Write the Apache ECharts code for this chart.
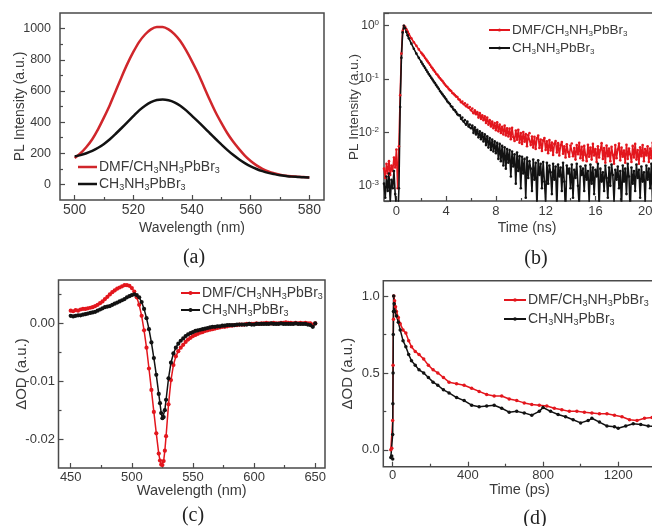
<!DOCTYPE html>
<html><head><meta charset="utf-8">
<script src="https://cdn.jsdelivr.net/npm/echarts@6/dist/echarts.min.js"></script>
<style>html,body{margin:0;padding:0;background:#fff}#c{width:652px;height:526px}</style>
</head><body><div id="c"></div>
<script>
// ---------- Panel (a): steady-state PL ----------
const wlA = [500,502,504,506,508,510,512,514,516,518,520,522,524,526,528,530,532,534,536,538,540,542,544,546,548,550,552,554,556,558,560,562,564,566,568,570,572,574,576,578,580];
const plDMF = [170,200,240,290,355,430,510,600,690,775,850,915,962,995,1010,1010,995,965,920,860,790,715,630,545,465,395,330,275,228,185,150,122,100,84,72,63,56,52,49,47,45];
const plMA  = [180,188,200,215,235,260,290,325,362,400,438,475,505,528,542,545,540,527,505,475,440,405,368,330,293,257,222,190,162,137,116,99,85,74,66,59,54,50,48,46,45];
const ticksAx = [500,520,540,560,580], minorAx = [510,530,550,570];
const ticksAy = [0,200,400,600,800,1000], minorAy = [100,300,500,700,900];

// ---------- Panel (b): TRPL decay (log) ----------
const tB = [-1.0,-0.9,-0.8,-0.7,-0.6,-0.5,-0.4,-0.3,-0.2,-0.1,0.0,0.1,0.2,
 0.3,0.4,0.5,0.6,0.7,0.8,0.9,1.0,1.2,1.4,1.6,1.8,2.0,
 2.1,2.2,2.3,2.4,2.5,2.6,2.7,2.8,2.9,3.0, 3.1,3.2,3.3,3.4,3.5,3.6,3.7,3.8,3.9,4.0,
 4.1,4.2,4.3,4.4,4.5,4.6,4.7,4.8,4.9,5.0, 5.1,5.2,5.3,5.4,5.5,5.6,5.7,5.8,5.9,6.0,
 6.1,6.2,6.3,6.4,6.5,6.6,6.7,6.8,6.9,7.0, 7.1,7.2,7.3,7.4,7.5,7.6,7.7,7.8,7.9,8.0,
 8.1,8.2,8.3,8.4,8.5,8.6,8.7,8.8,8.9,9.0, 9.1,9.2,9.3,9.4,9.5,9.6,9.7,9.8,9.9,10.0,
 10.1,10.2,10.3,10.4,10.5,10.6,10.7,10.8,10.9,11.0, 11.1,11.2,11.3,11.4,11.5,11.6,11.7,11.8,11.9,12.0,
 12.1,12.2,12.3,12.4,12.5,12.6,12.7,12.8,12.9,13.0, 13.1,13.2,13.3,13.4,13.5,13.6,13.7,13.8,13.9,14.0,
 14.1,14.2,14.3,14.4,14.5,14.6,14.7,14.8,14.9,15.0, 15.1,15.2,15.3,15.4,15.5,15.6,15.7,15.8,15.9,16.0,
 16.1,16.2,16.3,16.4,16.5,16.6,16.7,16.8,16.9,17.0, 17.1,17.2,17.3,17.4,17.5,17.6,17.7,17.8,17.9,18.0,
 18.1,18.2,18.3,18.4,18.5,18.6,18.7,18.8,18.9,19.0, 19.1,19.2,19.3,19.4,19.5,19.6,19.7,19.8,19.9,20.0,
 20.1,20.2,20.3,20.4,20.5,20.6,20.7,20.8,20.9,21.0, 21.1,21.2,21.3,21.4,21.5,21.6,21.7,21.8,21.9,22.0];
const trDMF = [0.0021,0.0014,0.0026,0.0017,0.0029,0.0016,0.0024,0.0019,0.0034,0.0022,0.0048,0.0009,0.0055,
 0.05,0.3,0.8,1.0,0.95,0.86,0.78,0.7,0.58,0.49,0.42,0.36,0.31,
 0.29,0.272,0.25,0.232,0.215,0.2,0.185,0.17,0.16,0.147, 0.137,0.126,0.12,0.111,0.104,0.097,0.092,0.085,0.079,0.074,
 0.071,0.066,0.062,0.06,0.055,0.053,0.05,0.047,0.046,0.042, 0.041,0.037,0.038,0.034,0.035,0.031,0.033,0.029,0.030,0.026,
 0.028,0.023,0.026,0.022,0.024,0.019,0.023,0.018,0.021,0.017, 0.020,0.015,0.019,0.014,0.017,0.013,0.016,0.012,0.015,0.011,
 0.0155,0.0105,0.014,0.0098,0.0128,0.0092,0.0135,0.0088,0.012,0.0084, 0.0118,0.0075,0.0122,0.0082,0.0069,0.0109,0.0073,0.0112,0.0064,0.0098,
 0.0061,0.0102,0.0067,0.0093,0.0055,0.0089,0.0097,0.0058,0.0084,0.0052, 0.0083,0.0049,0.0078,0.0088,0.0051,0.0074,0.0045,0.0071,0.0079,0.0047,
 0.0068,0.0041,0.0072,0.0046,0.0065,0.0038,0.0061,0.0069,0.0042,0.0063, 0.0037,0.0058,0.0066,0.004,0.0055,0.0034,0.006,0.0043,0.0035,0.0057,
 0.0062,0.0036,0.0051,0.0031,0.0058,0.0039,0.0064,0.0033,0.0054,0.003, 0.0056,0.0038,0.0029,0.0059,0.0035,0.0052,0.0031,0.0061,0.0037,0.0049,
 0.0028,0.0055,0.0034,0.0047,0.0063,0.0032,0.0051,0.0027,0.0057,0.0036, 0.005,0.0029,0.0054,0.0038,0.0026,0.0058,0.0033,0.0048,0.0062,0.003,
 0.0052,0.0035,0.0046,0.0027,0.0059,0.0032,0.005,0.0039,0.0028,0.0056, 0.0034,0.0061,0.0031,0.0047,0.0026,0.0053,0.0036,0.0058,0.0029,0.0049,
 0.0037,0.0055,0.0028,0.005,0.0033,0.0064,0.003,0.0046,0.0027,0.0057, 0.0035,0.0049,0.0029,0.0061,0.0032,0.0052,0.0038,0.0026,0.0054,0.0034];
const trMA = [0.0011,0.0006,0.0015,0.0008,0.0017,0.0005,0.0013,0.0009,0.0019,0.0007,0.0004,0.0002,0.0009,
 0.03,0.25,0.75,1.0,0.9,0.76,0.66,0.58,0.46,0.37,0.3,0.25,0.21,
 0.192,0.176,0.162,0.148,0.136,0.124,0.115,0.106,0.098,0.09, 0.084,0.077,0.071,0.066,0.06,0.056,0.052,0.048,0.045,0.042,
 0.038,0.036,0.034,0.031,0.03,0.027,0.026,0.024,0.022,0.021, 0.021,0.018,0.019,0.016,0.017,0.014,0.016,0.013,0.014,0.012,
 0.0135,0.0098,0.0125,0.0092,0.0112,0.0081,0.0105,0.0075,0.0098,0.0068, 0.0092,0.0058,0.0085,0.0052,0.0079,0.0047,0.0074,0.0044,0.0068,0.0041,
 0.0064,0.0032,0.0061,0.0029,0.0056,0.0024,0.0053,0.0021,0.0049,0.0027, 0.0047,0.0015,0.0044,0.0023,0.0039,0.0011,0.0042,0.0019,0.0036,0.0009,
 0.0035,0.0017,0.0032,0.0006,0.0034,0.0014,0.0029,0.0021,0.0008,0.0031, 0.0013,0.0027,0.0004,0.003,0.0016,0.0026,0.0009,0.0028,0.0012,0.0005,
 0.0027,0.0011,0.0024,0.0018,0.0007,0.0026,0.0013,0.0023,0.0004,0.0025, 0.0015,0.0022,0.0008,0.0027,0.0012,0.0003,0.0024,0.0017,0.0021,0.0009,
 0.0025,0.0006,0.002,0.0014,0.0026,0.001,0.0004,0.0023,0.0016,0.0021, 0.0008,0.0024,0.0013,0.0019,0.0005,0.0025,0.0011,0.0022,0.0007,0.002,
 0.0015,0.0026,0.0004,0.0021,0.0012,0.0018,0.0008,0.0024,0.0014,0.0006, 0.0022,0.001,0.0025,0.0016,0.0005,0.002,0.0013,0.0023,0.0009,0.0019,
 0.0004,0.0024,0.0012,0.0021,0.0007,0.0026,0.0015,0.0003,0.0022,0.0011, 0.0019,0.0008,0.0025,0.0014,0.002,0.0006,0.0023,0.0012,0.0018,0.0005,
 0.0024,0.0013,0.0021,0.0009,0.0026,0.0004,0.0019,0.0015,0.0022,0.0007, 0.002,0.0011,0.0025,0.0006,0.0018,0.0014,0.0023,0.0005,0.0021,0.0012];
const ticksBx = [0,4,8,12,16,20], minorBx = [2,6,10,14,18];

// ---------- Panel (c): TA spectra ----------
const wlC = [450,452,454,456,458,460,462,464,466,468,470,472,474,476,478,480,482,484,486,488,
 490,492,494,496,498,500,502,504,506,508,510,512,514,516,518,520,522,523,524,525,526,527,528,
 530,532,534,536,538,540,542,544,546,548,550,552,554,556,558,560,562,564,566,568,
 570,572,574,576,578,580,582,584,586,588,590,592,594,596,598,600,602,604,606,608,
 610,612,614,616,618,620,622,624,626,628,630,632,634,636,638,640,642,644,646,648,650];
const taDMF = [0.0022,0.0021,0.0023,0.0022,0.0024,0.0025,0.0025,0.0026,0.0027,0.0028,
 0.003,0.0032,0.0035,0.0038,0.0042,0.0046,0.005,0.0054,0.0057,0.006,
 0.0062,0.0064,0.0066,0.0066,0.0065,0.0061,0.0055,0.0045,0.0032,0.0013,
 -0.0012,-0.0042,-0.0078,-0.0115,-0.0153,-0.019,-0.0225,
 -0.0237,-0.0244,-0.0245,-0.0238,-0.022,-0.0195,
 -0.014,-0.0098,-0.0072,-0.0057,-0.0048,-0.0042,-0.0037,-0.0032,-0.0028,-0.0025,
 -0.0022,-0.002,-0.0018,-0.0016,-0.0015,-0.0013,-0.0012,-0.0011,-0.001,-0.0009,
 -0.0008,-0.0007,-0.0006,-0.0006,-0.0005,-0.0004,-0.0004,-0.0003,-0.0003,-0.0002,
 -0.0002,-0.0002,-0.0001,-0.0001,-0.0001,-0.0001,0,-0.0001,0,0,
 0.0001,0,0,0.0001,0,0,0.0001,0.0001,0.0002,0.0001,
 0.0001,0,0.0001,0,0.0001,0,0.0001,0,0,-0.0002,0];
const taMA = [0.0013,0.0012,0.0013,0.0014,0.0014,0.0015,0.0016,0.0017,0.0018,0.0019,
 0.002,0.0022,0.0024,0.0026,0.0028,0.0029,0.003,0.0032,0.0034,0.0036,
 0.0038,0.004,0.0042,0.0045,0.0047,0.0049,0.005,0.0049,0.0045,0.0037,
 0.0025,0.0009,-0.001,-0.0033,-0.006,-0.0089,-0.0122,
 -0.0138,-0.0155,-0.0164,-0.0162,-0.015,-0.0132,
 -0.0095,-0.0068,-0.0052,-0.0042,-0.0035,-0.003,-0.0026,-0.0022,-0.0019,-0.0017,
 -0.0015,-0.0013,-0.0012,-0.0011,-0.001,-0.0009,-0.0008,-0.0007,-0.0006,-0.0006,
 -0.0005,-0.0005,-0.0004,-0.0004,-0.0003,-0.0003,-0.0003,-0.0003,-0.0002,-0.0002,
 -0.0002,-0.0002,-0.0002,-0.0001,-0.0002,-0.0002,-0.0001,-0.0001,-0.0001,-0.0001,
 -0.0001,-0.0001,0,-0.0001,-0.0001,-0.0001,0,-0.0001,-0.0001,-0.0001,
 -0.0001,-0.0001,0,-0.0001,-0.0001,-0.0001,-0.0001,-0.0002,-0.0003,-0.0006,0];
const ticksCx = [450,500,550,600,650], minorCx = [475,525,575,625];
const ticksCy = [-0.02,-0.01,0], minorCy = [-0.015,-0.005,0.005];

// ---------- Panel (d): TA kinetics ----------
const tDMF = [-10,-5,0,2,4,6,10,15,20,30,40,55,70,85,100,120,140,165,190,215,240,270,300,340,380,420,460,500,540,580,620,660,700,740,780,820,860,900,940,980,1020,1060,1100,1140,1180,1220,1260,1300,1340,1380,1400];
const kDMF = [0.0,0.01,0.19,0.55,0.85,1.0,0.97,0.93,0.9,0.86,0.82,0.78,0.76,0.71,0.67,0.64,0.62,0.59,0.55,0.52,0.5,0.47,0.44,0.43,0.42,0.4,0.38,0.36,0.35,0.35,0.33,0.32,0.305,0.295,0.29,0.285,0.27,0.26,0.25,0.25,0.245,0.24,0.235,0.235,0.225,0.215,0.195,0.19,0.205,0.21,0.215];
const tMA = [-10,-5,0,0,1,2,3,4,5,8,12,20,30,40,55,70,85,100,120,140,165,190,215,240,270,300,340,380,420,460,500,540,580,620,660,700,740,780,800,840,880,920,960,1000,1040,1060,1100,1140,1180,1200,1240,1280,1320,1360,1400];
const kMA = [-0.05,-0.04,-0.06,0.1,0.3,0.5,0.75,0.9,1.0,0.95,0.9,0.87,0.83,0.78,0.71,0.67,0.62,0.58,0.55,0.52,0.5,0.47,0.44,0.42,0.39,0.37,0.34,0.32,0.29,0.28,0.285,0.29,0.27,0.245,0.25,0.24,0.225,0.25,0.275,0.25,0.23,0.215,0.195,0.175,0.19,0.205,0.18,0.155,0.15,0.14,0.155,0.17,0.165,0.155,0.15];
const ticksDx = [0,400,800,1200], minorDx = [200,600,1000];
const ticksDy = [0,0.5,1.0], minorDy = [0.25,0.75];

const legendNames = {
  a1:'DMF/CH{s|3}NH{s|3}PbBr{s|3}', a2:'CH{s|3}NH{s|3}PbBr{s|3}',
  b1:'DMF/CH{s|3}NH{s|3}PbBr{s|3}', b2:'CH{s|3}NH{s|3}PbBr{s|3}',
  c1:'DMF/CH{s|3}NH{s|3}PbBr{s|3}', c2:'CH{s|3}NH{s|3}PbBr{s|3}',
  d1:'DMF/CH{s|3}NH{s|3}PbBr{s|3}', d2:'CH{s|3}NH{s|3}PbBr{s|3}'
};

// ---------- build ----------
const FONT = '"Liberation Sans", Arial, sans-serif';
const TXT = '#3a3a3a', FRAME = '#4a4a4a';
const RED = '#e3161d', REDA = '#d0262b', BLK = '#121212';
const zip = (xs, ys) => xs.map((x, i) => [x, ys[i]]);

const grids = [
  {left:60, top:13, width:264, height:187},
  {left:384, top:13, width:286, height:188},
  {left:58.5, top:280, width:266.5, height:188},
  {left:383.3, top:280.7, width:272.5, height:186}
].map(g => Object.assign({show:true, borderColor:FRAME, borderWidth:1.5, backgroundColor:'transparent', containLabel:false, outerBoundsMode:'none'}, g));

const xAxes = [], yAxes = [];
function mk(gridIndex, pos, c) {
  const ax = {
    type: c.type || 'value', gridIndex, position: pos, min: c.min, max: c.max,
    axisLine: {show:false, onZero:false},
    axisTick: {show:true, inside:true, length:5, lineStyle:{color:FRAME, width:1.2}},
    axisLabel: {margin:c.margin, fontSize:c.fs, color:TXT, fontFamily:FONT, formatter: c.fmt || (v => String(v))},
    splitLine: {show:false},
    name: c.name, nameLocation:'middle', nameGap:c.gap, nameMoveOverlap:false,
    nameTextStyle: {fontSize:c.nfs, color:TXT, fontFamily:FONT}
  };
  if (c.ticks) { ax.axisTick.customValues = c.ticks; ax.axisLabel.customValues = c.ticks; }
  if (c.rich) ax.axisLabel.rich = c.rich;
  return ax;
}
function mkMinor(gridIndex, pos, c) {
  return {type:'value', gridIndex, position:pos, min:c.min, max:c.max,
    axisLine:{show:false, onZero:false}, axisLabel:{show:false}, splitLine:{show:false},
    axisTick:{show:true, inside:true, length:3, customValues:c.minor, lineStyle:{color:FRAME, width:1.2}}};
}
function panel(gi, xc, yc) {
  const xi = xAxes.length, yi = yAxes.length;
  xAxes.push(mk(gi, 'bottom', xc));
  if (xc.minor) xAxes.push(mkMinor(gi, 'bottom', xc));
  yAxes.push(mk(gi, 'left', yc));
  if (yc.minor) yAxes.push(mkMinor(gi, 'left', yc));
  return {xi, yi};
}

const pA = panel(0,
  {min:495, max:585, ticks:ticksAx, minor:minorAx, margin:3, fs:14, name:'Wavelength (nm)', gap:21, nfs:14},
  {min:-100, max:1100, ticks:ticksAy, minor:minorAy, margin:9, fs:12.5, name:'PL Intensity (a.u.)', gap:33, nfs:14});
const pB = panel(1,
  {min:-1, max:22, ticks:ticksBx, minor:minorBx, margin:4, fs:13, name:'Time (ns)', gap:20, nfs:14},
  {type:'log', min:0.00052, max:1.73, margin:5, fs:12, name:'PL Intensity (a.u.)', gap:23, nfs:13.5,
   fmt: v => { const l = Math.log10(v), e = Math.round(l); return Math.abs(l - e) < 1e-6 ? '{b|10}{p|' + e + '}' : ''; },
   rich: {b:{fontSize:12, color:TXT, fontFamily:FONT, lineHeight:14}, p:{fontSize:8, color:TXT, fontFamily:FONT, verticalAlign:'top', lineHeight:8}}});
const pC = panel(2,
  {min:440, max:658, ticks:ticksCx, minor:minorCx, margin:3, fs:13, name:'Wavelength (nm)', gap:15, nfs:14.5},
  {min:-0.025, max:0.0075, ticks:ticksCy, minor:minorCy, margin:3.5, fs:13, name:'\u0394OD (a.u.)', gap:29, nfs:15,
   fmt: v => v.toFixed(2)});
const pD = panel(3,
  {min:-50, max:1400, ticks:ticksDx, minor:minorDx, margin:2, fs:13, name:'Time (ps)', gap:15.5, nfs:14.5},
  {min:-0.11, max:1.1, ticks:ticksDy, minor:minorDy, margin:3.5, fs:13, name:'\u0394OD (a.u.)', gap:28, nfs:15,
   fmt: v => v.toFixed(1)});

function line(name, p, data, color, o) {
  return Object.assign({
    type:'line', name, xAxisIndex:p.xi, yAxisIndex:p.yi, data,
    symbol:'circle', symbolSize:3, showAllSymbol:true, animation:false,
    lineStyle:{color, width:1.5}, itemStyle:{color}, emphasis:{disabled:true}, clip:true
  }, o || {});
}

const series = [
  line('a1', pA, zip(wlA, plDMF), REDA, {symbol:'none', smooth:0.3, lineStyle:{color:REDA, width:2.5}}),
  line('a2', pA, zip(wlA, plMA), BLK, {symbol:'none', smooth:0.3, lineStyle:{color:BLK, width:2.5}}),
  line('b1', pB, zip(tB, trDMF), RED, {symbolSize:2.6, lineStyle:{color:RED, width:1.6}}),
  line('b2', pB, zip(tB, trMA), BLK, {symbolSize:2.6, lineStyle:{color:BLK, width:1.6}}),
  line('c1', pC, zip(wlC, taDMF), RED, {symbolSize:4.2}),
  line('c2', pC, zip(wlC, taMA), BLK, {symbolSize:4.2}),
  line('d1', pD, zip(tDMF, kDMF), RED, {symbolSize:3.5}),
  line('d2', pD, zip(tMA, kMA), BLK, {symbolSize:3.5})
];

function legend(names, left, top, iw, ih, gap, fs, icon) {
  const l = {data:names, left, top, orient:'vertical', itemWidth:iw, itemHeight:ih, itemGap:gap, padding:0,
    selectedMode:false, formatter: n => legendNames[n],
    textStyle:{fontSize:fs, color:TXT, fontFamily:FONT, lineHeight:16, padding:[0,0,0,-3],
      rich:{s:{fontSize:Math.round(fs*0.62), color:TXT, fontFamily:FONT, verticalAlign:'bottom', lineHeight:16}}}};
  if (icon) l.icon = icon;
  return l;
}

const option = {
  animation:false,
  backgroundColor:'#fff',
  grid: grids,
  xAxis: xAxes,
  yAxis: yAxes,
  legend: [
    legend(['a1','a2'], 78, 159, 19, 2.5, 1, 14, 'rect'),
    legend(['b1','b2'], 488, 22, 21, 4, 2, 13.5),
    legend(['c1','c2'], 180, 285, 19, 5, 1, 14),
    legend(['d1','d2'], 503, 292, 22, 4.5, 3, 14)
  ],
  series,
  graphic: [
    {type:'text', x:194, y:258, style:{text:'(a)', font:'20px "Liberation Serif", serif', fill:'#222', textAlign:'center', textVerticalAlign:'middle'}},
    {type:'text', x:536, y:259, style:{text:'(b)', font:'20px "Liberation Serif", serif', fill:'#222', textAlign:'center', textVerticalAlign:'middle'}},
    {type:'text', x:193, y:516, style:{text:'(c)', font:'20px "Liberation Serif", serif', fill:'#222', textAlign:'center', textVerticalAlign:'middle'}},
    {type:'text', x:535, y:519, style:{text:'(d)', font:'20px "Liberation Serif", serif', fill:'#222', textAlign:'center', textVerticalAlign:'middle'}}
  ]
};
const chart = echarts.init(document.getElementById('c'), null, {renderer:'canvas'});
chart.setOption(option);
</script>
</body></html>
